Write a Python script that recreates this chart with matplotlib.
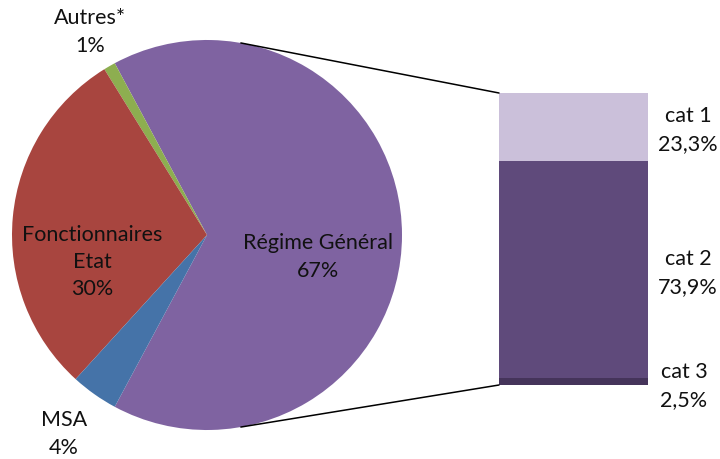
import numpy as np
import matplotlib
matplotlib.use("Agg")
import matplotlib.pyplot as plt
from matplotlib.patches import ConnectionPatch

plt.rcParams['font.family'] = ['Lato', 'DejaVu Sans']

# pie data (order: counterclockwise from the right)
pie_labels = ["Régime Général", "Autres*", "Fonctionnaires\nEtat", "MSA"]
pie_values = [67, 1, 30, 4]
pie_colors = ["#7F63A1", "#8DAE50", "#A8453F", "#4573A8"]

# bar breakdown of "Régime Général" (bottom to top)
bar_labels = ["cat 3", "cat 2", "cat 1"]
bar_values = [2.5, 73.9, 23.3]
bar_texts = ["2,5%", "73,9%", "23,3%"]
bar_colors = ["#45345A", "#5F4A7B", "#CBC0DA"]

W, H = 720, 460
fig = plt.figure(figsize=(7.2, 4.6), dpi=100)
ax = fig.add_axes([0, 0, 1, 1])

cx, cy, r = 207, 224, 195
start = -pie_values[0] / sum(pie_values) * 180
ax.pie(pie_values, colors=pie_colors, center=(cx, cy), radius=r,
       startangle=start, counterclock=True,
       wedgeprops=dict(linewidth=0), frame=True)
ax.set_xlim(0, W)
ax.set_ylim(0, H)
ax.set_aspect("equal")
ax.axis("off")

fs = 15.5
ls = 1.45
ax.text(318, H - 257, "Régime Général\n67%", ha="center", va="center",
        fontsize=fs, linespacing=ls, color="#111111")
ax.text(92, H - 262, "Fonctionnaires\nEtat\n30%", ha="center", va="center",
        fontsize=fs, linespacing=ls, color="#111111")
ax.text(90, H - 32, "Autres*\n1%", ha="center", va="center",
        fontsize=fs, linespacing=ls, color="#111111")
ax.text(64, H - 434, "MSA\n4%", ha="center", va="center",
        fontsize=fs, linespacing=ls, color="#111111")

# bar of pie
bx0, bx1, by_top, by_bot = 499, 648, 94, 386
bax = fig.add_axes([bx0 / W, (H - by_bot) / H, (bx1 - bx0) / W, (by_bot - by_top) / H])
total = sum(bar_values)
bottom = 0
for v, c in zip(bar_values, bar_colors):
    bax.bar(0, v, bottom=bottom, width=1, color=c, linewidth=0)
    bottom += v
bax.set_xlim(-0.5, 0.5)
bax.set_ylim(0, total)
bax.axis("off")

label_y = [386, 273, 130]
label_x = [684, 688, 688]
for lab, t, lx, ly in zip(bar_labels, bar_texts, label_x, label_y):
    ax.text(lx, H - ly, lab + "\n" + t, ha="center", va="center",
            fontsize=fs, linespacing=ls, color="#111111")

# connector lines
ang = np.deg2rad(80)
top_pt = (cx + r * np.cos(ang), cy + r * np.sin(ang))
bot_pt = (cx + r * np.cos(ang), cy - r * np.sin(ang))
for pt, yb in [(top_pt, total), (bot_pt, 0)]:
    con = ConnectionPatch(xyA=pt, coordsA=ax.transData, xyB=(-0.5, yb),
                          coordsB=bax.transData, color="black", linewidth=1.1)
    fig.add_artist(con)

fig.savefig("out.png", dpi=100)
